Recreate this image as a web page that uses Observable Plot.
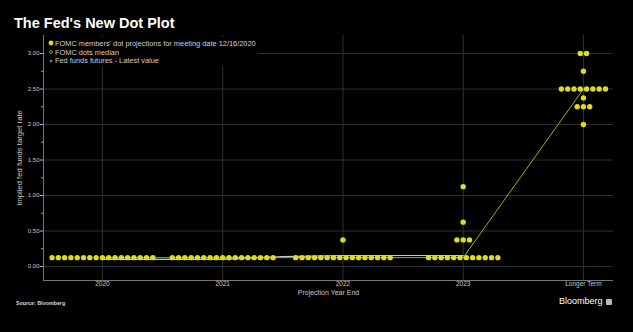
<!DOCTYPE html>
<html><head><meta charset="utf-8">
<script src="https://cdn.jsdelivr.net/npm/d3@7"></script>
<script src="https://cdn.jsdelivr.net/npm/@observablehq/plot@0.6"></script>
<style>
html,body{margin:0;padding:0;background:#000;}
#wrap{position:relative;width:633px;height:332px;background:#000;overflow:hidden;font-family:"Liberation Sans",Arial,sans-serif;}
.abs{position:absolute;white-space:nowrap;line-height:1;}
#title{left:14px;top:16px;color:#fff;font-weight:bold;font-size:14.5px;}
#chart{position:absolute;left:0;top:35px;}
#legend{position:absolute;left:45px;top:37px;width:213px;height:29px;background:#000;}
.lg{position:absolute;left:0;color:#d0d0d0;font-size:7.4px;line-height:1;white-space:nowrap;}
.lg svg{position:absolute;left:2px;top:0;}
.lg span{position:absolute;left:10px;}
#source{left:16px;top:301.4px;color:#ddd;font-weight:bold;font-size:5.3px;}
#brand{left:559px;top:297.3px;color:#fff;font-size:9px;}
#icon{position:absolute;left:605.5px;top:298.5px;width:6px;height:6px;background:#bbb;border-radius:1px;}
</style></head>
<body>
<div id="wrap">
  <div id="title" class="abs">The Fed's New Dot Plot</div>
  <div id="chart"></div>
  <div id="legend"></div>
  <div id="source" class="abs">Source: Bloomberg</div>
  <div id="brand" class="abs">Bloomberg</div>
  <div id="icon"></div>
</div>
<script>
// ---- data ----
const years = ["2020", "2021", "2022", "2023", "Longer Term"];
// dot groups: year index, rate, number of participants
const dotYear  = [0, 1, 2, 2, 3, 3, 3, 3, 4, 4, 4, 4, 4, 4];
const dotRate  = [0.125, 0.125, 0.125, 0.375, 0.125, 0.375, 0.625, 1.125, 2.0, 2.25, 2.375, 2.5, 2.75, 3.0];
const dotCount = [17, 17, 16, 1, 12, 3, 1, 1, 1, 3, 1, 8, 1, 2];
const medianRate = [0.125, 0.125, 0.125, 0.125, 2.5];
const futuresX = [0, 1, 1.5, 2, 3];
const futuresRate = [0.10, 0.10, 0.14, 0.155, 0.155];
const yTicks = [0, 0.5, 1, 1.5, 2, 2.5, 3];
const yMinorTicks = [0.25, 0.75, 1.25, 1.75, 2.25, 2.75];
const legendLabels = [
  "FOMC members' dot projections for meeting date 12/16/2020",
  "FOMC dots median",
  "Fed funds futures - Latest value"
];

// ---- layout ----
const W = 633, H = 265, mL = 43, mR = 20, mT = 0, mB = 20;
const xDomain = [-0.49, 4.25], yDomain = [-0.197, 3.254];
const dotSpacingPx = 6.3;
const unit = dotSpacingPx * (xDomain[1] - xDomain[0]) / (W - mL - mR);

const dots = [];
dotYear.forEach((g, i) => {
  const n = dotCount[i];
  for (let k = 0; k < n; k++) dots.push({x: g + (k - (n - 1) / 2) * unit, y: dotRate[i]});
});
const medians = medianRate.map((r, i) => ({x: i, y: r}));
const futures = futuresRate.map((r, i) => ({x: futuresX[i], y: r}));
const yearIdx = years.map((d, i) => i);

const DOT = "#dcdc22", MED = "#86b817", FUT = "#c8c8c8", GRID = "#303030", AX = "#777";

const chart = Plot.plot({
  width: W, height: H,
  marginLeft: mL, marginRight: mR, marginTop: mT, marginBottom: mB,
  style: {background: "#000", color: "#ccc", fontFamily: "Liberation Sans, Arial, sans-serif", overflow: "visible"},
  x: {domain: xDomain, label: null},
  y: {domain: yDomain, label: null},
  marks: [
    Plot.gridY(yTicks, {stroke: GRID, strokeOpacity: 1}),
    Plot.gridX(yearIdx, {stroke: GRID, strokeOpacity: 1}),
    Plot.ruleX([xDomain[0]], {stroke: AX}),
    Plot.ruleY([yDomain[0]], {stroke: AX}),
    Plot.axisY(yMinorTicks, {tickSize: 2, tickFormat: () => "", stroke: "#999", label: null}),
    Plot.axisY(yTicks, {tickSize: 3, tickPadding: 1, tickFormat: d => d.toFixed(2), fontSize: 6, fill: "#c8c8c8", stroke: "#bbb", label: null}),
    Plot.axisX(yearIdx, {tickSize: 0, tickPadding: 1, tickFormat: i => years[i], fontSize: 6.5, fill: "#c8c8c8", label: null}),
    Plot.text(["Implied fed funds target rate"], {frameAnchor: "left", rotate: -90, dx: -24, textAnchor: "middle", lineAnchor: "middle", fill: "#c8c8c8", fontSize: 7.7}),
    Plot.text(["Projection Year End"], {frameAnchor: "bottom", dy: 12.5, textAnchor: "middle", lineAnchor: "middle", fill: "#c8c8c8", fontSize: 7}),
    Plot.line(futures, {x: "x", y: "y", stroke: FUT, strokeWidth: 1.2}),
    Plot.line(medians, {x: "x", y: "y", stroke: MED, strokeWidth: 1}),
    Plot.dot(dots, {x: "x", y: "y", r: 2.7, fill: DOT, stroke: "none"})
  ]
});
document.getElementById("chart").appendChild(chart);

// ---- legend ----
const legend = document.getElementById("legend");
const rowTops = [2.5, 11.5, 20.2];
const markers = [
  `<svg width="8" height="8"><circle cx="4" cy="4" r="2.4" fill="${DOT}"/></svg>`,
  `<svg width="8" height="8"><circle cx="4" cy="4" r="1.4" fill="none" stroke="${MED}" stroke-width="0.9"/></svg>`,
  `<svg width="8" height="8"><path d="M2.6,4H5.4M4,2.6V5.4" stroke="#bbb" stroke-width="0.8"/></svg>`
];
legendLabels.forEach((t, i) => {
  const row = document.createElement("div");
  row.className = "lg";
  row.style.top = rowTops[i] + "px";
  row.innerHTML = markers[i].replace("<svg", `<svg style="top:${-0.5}px"`) + `<span>${t}</span>`;
  legend.appendChild(row);
});
</script>
</body></html>
